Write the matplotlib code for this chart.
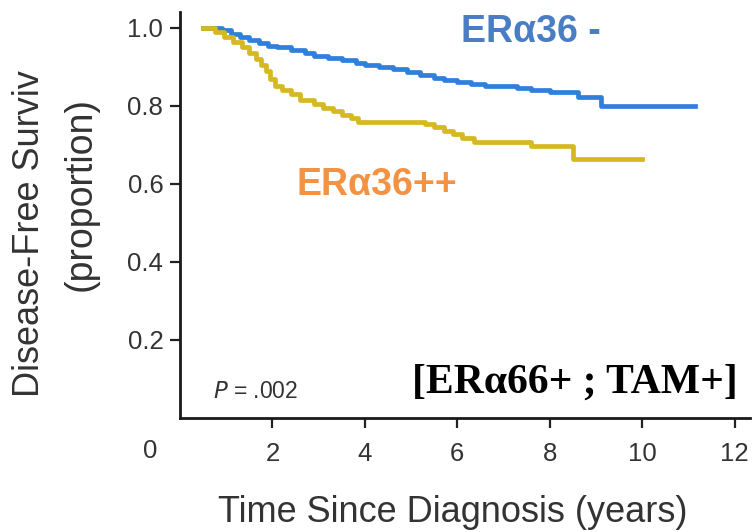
import matplotlib
matplotlib.use('Agg')
import matplotlib.pyplot as plt

# Kaplan-Meier curves (years, proportion)
neg_t = [0.5, 0.9, 1.1, 1.3, 1.5, 1.7, 1.9, 2.1, 2.4, 2.7, 2.9, 3.2, 3.5, 3.8,
         4.0, 4.3, 4.6, 4.9, 5.2, 5.5, 5.7, 6.0, 6.3, 6.6, 6.9, 7.3, 7.6, 8.0,
         8.6, 9.1, 11.15]
neg_s = [1.0, 0.995, 0.985, 0.978, 0.97, 0.962, 0.955, 0.95, 0.943, 0.935,
         0.928, 0.922, 0.917, 0.91, 0.905, 0.9, 0.895, 0.887, 0.88, 0.872,
         0.866, 0.862, 0.857, 0.852, 0.85, 0.846, 0.84, 0.837, 0.822, 0.8, 0.8]
pos_t = [0.5, 0.75, 0.95, 1.15, 1.35, 1.5, 1.65, 1.75, 1.85, 1.95, 2.05, 2.2,
         2.4, 2.6, 2.9, 3.1, 3.3, 3.5, 3.7, 3.85, 5.3, 5.5, 5.7, 5.9, 6.1, 6.35,
         7.6, 8.5, 10.0]
pos_s = [1.0, 0.99, 0.978, 0.965, 0.95, 0.936, 0.92, 0.905, 0.89, 0.87, 0.85,
         0.84, 0.83, 0.815, 0.805, 0.795, 0.787, 0.778, 0.768, 0.76, 0.755,
         0.745, 0.735, 0.727, 0.718, 0.708, 0.697, 0.663, 0.663]

x_ticks = [2, 4, 6, 8, 10, 12]
y_ticks = [0.2, 0.4, 0.6, 0.8, 1.0]

plt.rcParams['font.family'] = ['Liberation Sans', 'DejaVu Sans']

fig = plt.figure(figsize=(7.52, 5.32), dpi=100)
ax = fig.add_axes([180 / 752, 114 / 532, 570 / 752, 406 / 532])

ax.step(neg_t, neg_s, where='post', color='#2f7fdc', lw=3.4)
ax.step(pos_t, pos_s, where='post', color='#d6b822', lw=3.4)

ax.set_xlim(0, 12.33)
ax.set_ylim(0, 1.041)
ax.set_xticks(x_ticks)
ax.set_yticks(y_ticks)
ax.set_yticklabels([f'{v:.1f}' for v in y_ticks])
ax.tick_params(axis='both', direction='out', length=7, width=1.6,
               labelsize=18.5, color='#222222', labelcolor='#333333')
ax.tick_params(axis='x', pad=10)
ax.tick_params(axis='y', pad=5)
for side in ['top', 'right']:
    ax.spines[side].set_visible(False)
for side in ['left', 'bottom']:
    ax.spines[side].set_linewidth(2.0)
    ax.spines[side].set_color('#1a1a1a')

# lone "0" sitting left of the origin
ax.text(-0.65, -0.085, '0', transform=ax.transData, ha='center', va='center',
        fontsize=18.5, color='#333333', clip_on=False)

ax.text(0.71, 0.051, r'$\it{P}$ = .002', fontsize=16.5, color='#333333',
        ha='left', va='baseline')

ax.text(7.6, 0.99, 'ERα36 -', color='#4a7ec4', fontsize=27,
        fontweight='bold', ha='center', va='center')
ax.text(4.25, 0.597, 'ERα36++', color='#f39241', fontsize=27,
        fontweight='bold', ha='center', va='center')
ax.text(8.55, 0.09, '[ERα66+ ; TAM+]', color='black', fontsize=30,
        fontweight='bold', family=['Liberation Serif', 'DejaVu Serif'],
        ha='center', va='center')

# axis titles (y title is cut off in the source)
fig.text(453 / 752, 10 / 532, 'Time Since Diagnosis (years)', fontsize=26,
         color='#333333', ha='center', va='baseline')
fig.text(30 / 752, 135 / 532, 'Disease-Free Surviv', fontsize=26, rotation=90,
         color='#333333', ha='center', va='bottom')
fig.text(81 / 752, 338 / 532, '(proportion)', fontsize=27, rotation=90,
         color='#333333', ha='center', va='center')

fig.savefig('out.png', dpi=100)
